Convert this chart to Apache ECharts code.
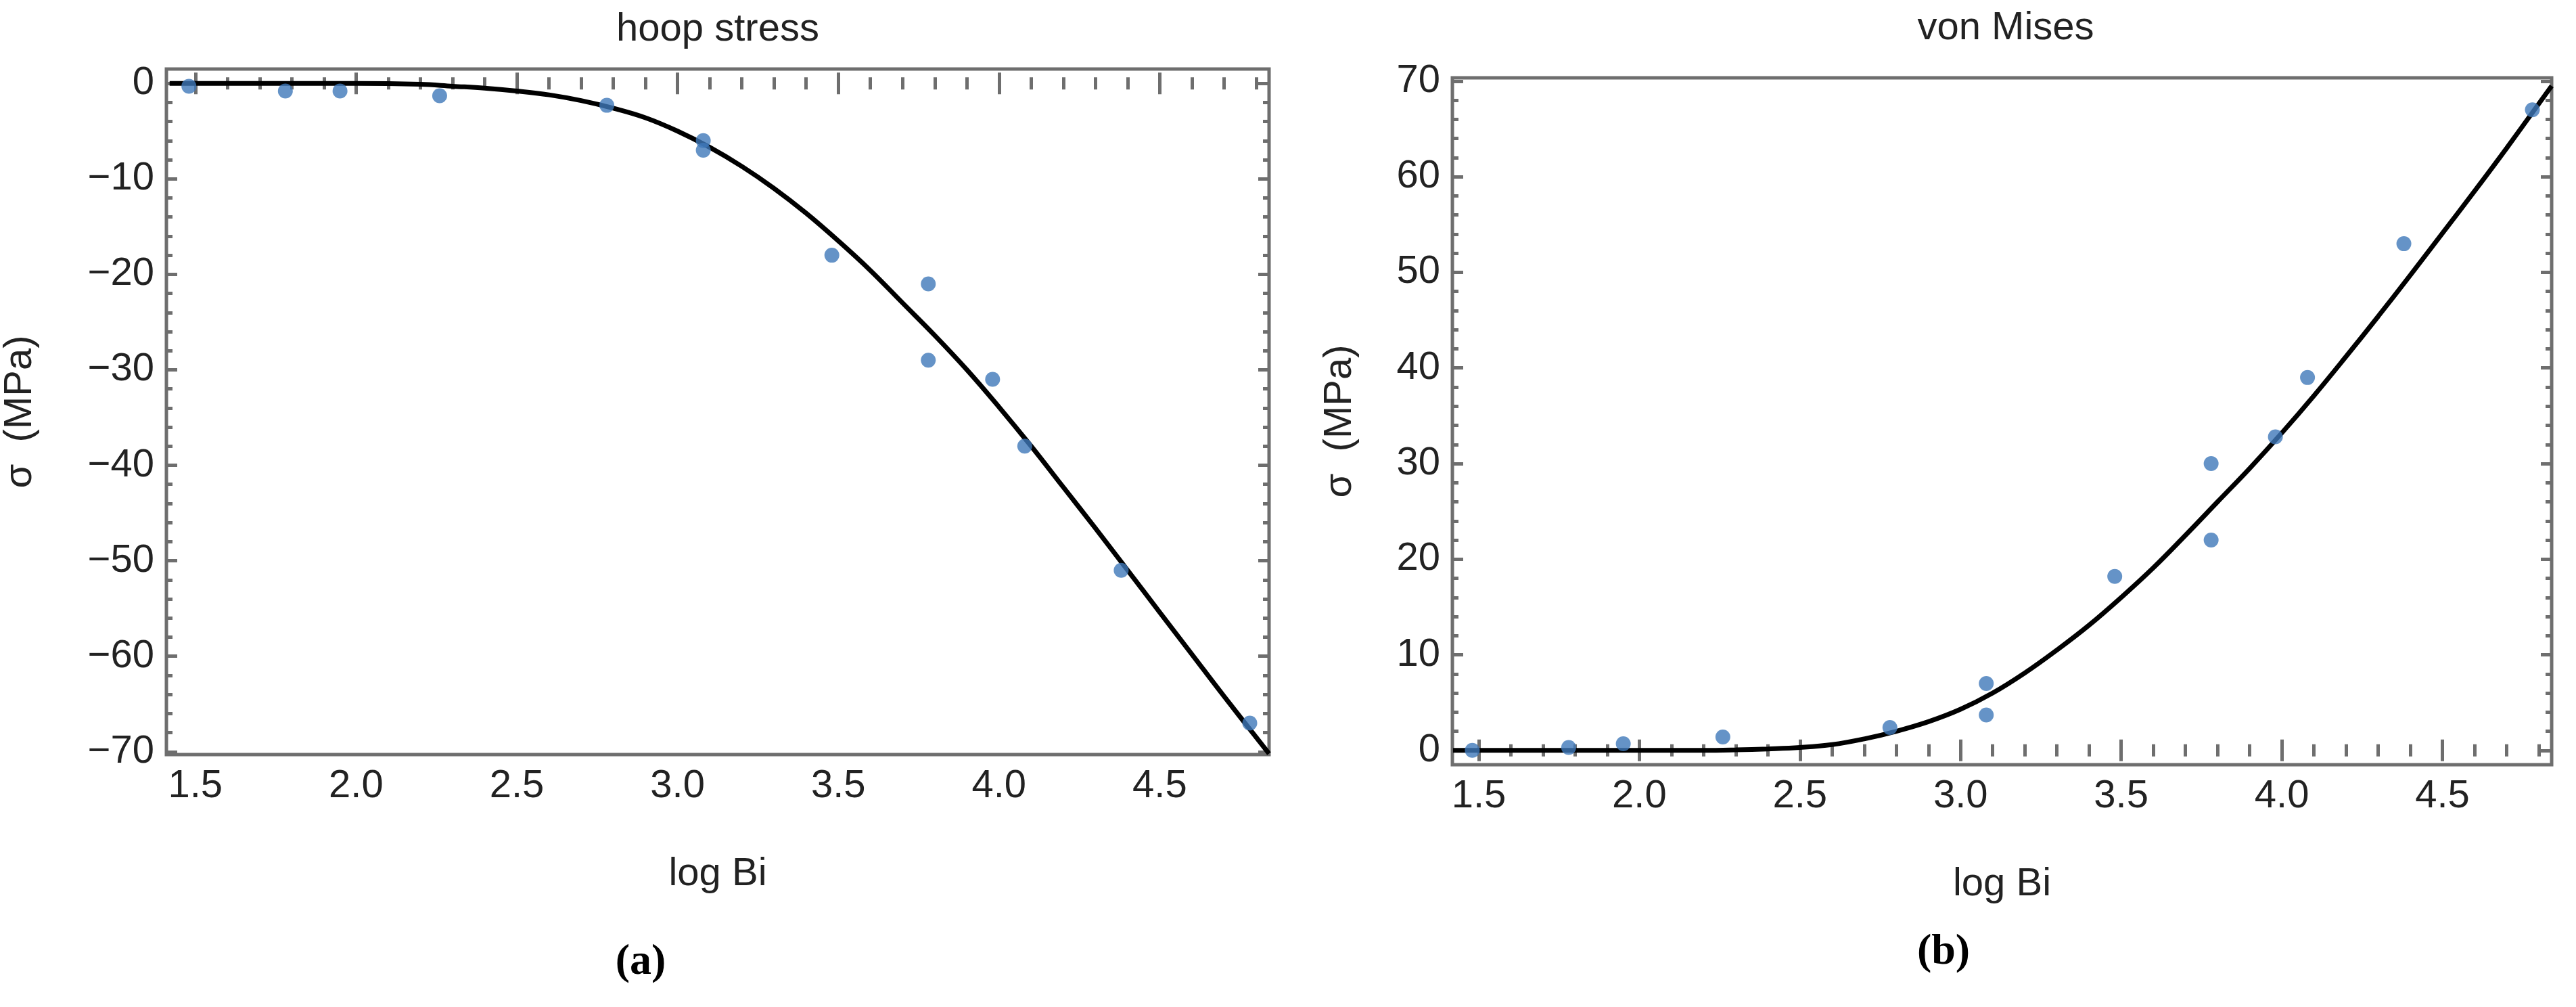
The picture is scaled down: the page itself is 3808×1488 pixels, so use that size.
<!DOCTYPE html>
<html><head><meta charset="utf-8">
<script src="https://cdn.jsdelivr.net/npm/echarts@6/dist/echarts.min.js"></script>
<style>html,body{margin:0;padding:0;background:#fff}#c{width:3808px;height:1488px}</style>
</head><body><div id="c"></div>
<script>
// data
const ptX = [1.48,1.78,1.95,2.26,2.78,3.08,3.08,3.48,3.78,3.78,3.98,4.08,4.38,4.78];
const hoopPts = [-0.3,-0.8,-0.8,-1.3,-2.3,-6,-7,-18,-21,-29,-31,-38,-51,-67];
const vmPts = [0,0.3,0.7,1.4,2.4,7,3.7,18.2,30,22,32.8,39,53,67];
const curveX = [1.42,1.8,2.0,2.2,2.3,2.4,2.5,2.6,2.7,2.8,2.9,3.0,3.1,3.2,3.3,3.4,3.5,3.6,3.7,3.8,3.9,4.0,4.1,4.2,4.3,4.4,4.5,4.6,4.7,4.84];
const hoopCurve = [0,0,0,-0.1,-0.3,-0.5,-0.8,-1.2,-1.8,-2.6,-3.6,-5,-6.7,-8.7,-11,-13.6,-16.5,-19.6,-23,-26.4,-30,-33.9,-38,-42.3,-46.6,-51,-55.4,-59.8,-64.2,-70.2];
const vmCurve = [0,0,0,0,0.05,0.15,0.3,0.6,1.2,2,3,4.3,6,8.1,10.5,13.1,16,19.1,22.5,26,29.5,33.2,37.1,41.2,45.4,49.7,54.1,58.5,63,69.5];
const xMajor = [1.5,2.0,2.5,3.0,3.5,4.0,4.5];
const xMinor = [1.5,1.6,1.7,1.8,1.9,2.0,2.1,2.2,2.3,2.4,2.5,2.6,2.7,2.8,2.9,3.0,3.1,3.2,3.3,3.4,3.5,3.6,3.7,3.8,3.9,4.0,4.1,4.2,4.3,4.4,4.5,4.6,4.7,4.8];
const hoopMajor = [0,-10,-20,-30,-40,-50,-60,-70];
const hoopMinor = [0,-2,-4,-6,-8,-10,-12,-14,-16,-18,-20,-22,-24,-26,-28,-30,-32,-34,-36,-38,-40,-42,-44,-46,-48,-50,-52,-54,-56,-58,-60,-62,-64,-66,-68,-70];
const vmMajor = [0,10,20,30,40,50,60,70];
const vmMinor = [0,2,4,6,8,10,12,14,16,18,20,22,24,26,28,30,32,34,36,38,40,42,44,46,48,50,52,54,56,58,60,62,64,66,68,70];
const titles = ['hoop stress','von Mises'];
const subLabels = ['(a)','(b)'];

const FRAME = '#6e6e6e';
const font = 'Liberation Sans';
function ax(type, grid, pos, vals, len, labels, range, extra){
  return Object.assign({
    type:'value', gridIndex:grid, position:pos, min:range[0], max:range[1],
    axisLine:{show:false}, splitLine:{show:false},
    axisTick:{show:true, inside:true, length:len, customValues:vals, lineStyle:{color:FRAME,width:5}},
    axisLabel: labels ? {show:true, customValues:labels, fontFamily:font, fontSize:58, color:'#222', margin:18,
      formatter:v=> (type==='x'? v.toFixed(1) : (v<0?'\u2212'+Math.abs(v):String(v)))} : {show:false}
  }, extra||{});
}
const grids = [
  {left:237, top:102, width:1639, height:1013, show:true, borderColor:FRAME, borderWidth:5},
  {left:2147, top:115, width:1625, height:1015, show:true, borderColor:FRAME, borderWidth:5}
];
const xr = [[1.41,4.84],[1.418,4.84]];
const yr = [[-70.3,1.5],[-1.5,70.35]];
const yMaj = [hoopMajor, vmMajor], yMin = [hoopMinor, vmMinor];
const xAxis = [], yAxis = [];
for (let g=0; g<2; g++){
  xAxis.push(ax('x',g,'bottom',xMajor,16,xMajor,xr[g],{name:'log Bi',nameLocation:'middle',nameGap:148,nameTextStyle:{fontFamily:font,fontSize:58,color:'#222'}}));
  xAxis.push(ax('x',g,'bottom',xMinor,9,null,xr[g]));
  xAxis.push(ax('x',g,'top',xMajor,16,null,xr[g]));
  xAxis.push(ax('x',g,'top',xMinor,9,null,xr[g]));
  yAxis.push(ax('y',g,'left',yMaj[g],16,yMaj[g],yr[g],{name:'\u03c3  (MPa)',nameLocation:'middle',nameRotate:90,nameGap: g===0?187:137,nameTextStyle:{fontFamily:font,fontSize:58,color:'#222'}}));
  yAxis.push(ax('y',g,'left',yMin[g],9,null,yr[g]));
  yAxis.push(ax('y',g,'right',yMaj[g],16,null,yr[g]));
  yAxis.push(ax('y',g,'right',yMin[g],9,null,yr[g]));
}
const series = [];
const ptsY = [hoopPts, vmPts], curY = [hoopCurve, vmCurve];
for (let g=0; g<2; g++){
  series.push({type:'line', xAxisIndex:g*4, yAxisIndex:g*4, data:curveX.map((x,i)=>[x,curY[g][i]]),
    smooth:0.4, showSymbol:false, lineStyle:{color:'#000',width:7}, z:2, clip:true});
  series.push({type:'scatter', xAxisIndex:g*4, yAxisIndex:g*4, data:ptX.map((x,i)=>[x,ptsY[g][i]]),
    symbolSize:22, itemStyle:{color:'#3f78b9'}, z:3});
}
const chart = echarts.init(document.getElementById('c'));
chart.setOption({
  animation:false,
  title:[
    {text:titles[0], left:1056, top:10, textAlign:'center', textStyle:{fontFamily:font,fontSize:58,fontWeight:'normal',color:'#222'}},
    {text:titles[1], left:2960, top:8, textAlign:'center', textStyle:{fontFamily:font,fontSize:58,fontWeight:'normal',color:'#222'}},
    {text:subLabels[0], left:942, top:1385, textAlign:'center', textStyle:{fontFamily:'Liberation Serif',fontSize:64,fontWeight:'bold',color:'#000'}},
    {text:subLabels[1], left:2868, top:1370, textAlign:'center', textStyle:{fontFamily:'Liberation Serif',fontSize:64,fontWeight:'bold',color:'#000'}}
  ],
  grid:grids, xAxis:xAxis, yAxis:yAxis, series:series
});
</script></body></html>
